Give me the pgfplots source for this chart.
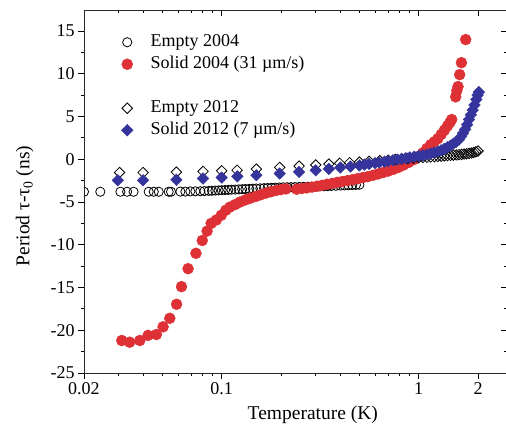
\documentclass[border=0pt]{standalone}
\usepackage{pgfplots}
\pgfplotsset{compat=1.18}
\usepackage{fontspec}
\setmainfont{Liberation Serif}
\definecolor{sred}{RGB}{221,49,54}
\definecolor{sblue}{RGB}{52,52,156}
\begin{document}
\begin{tikzpicture}
\begin{axis}[
  scale only axis, width=423pt, height=363pt, at={(0pt,0pt)}, anchor=south west,
  xmode=log, xmin=0.02, xmax=2.806, ymin=-25, ymax=17.46,
  xtick={0.02,0.1,1,2}, xticklabels={0.02,0.1,1,2},
  minor xtick={0.03,0.04,0.05,0.06,0.07,0.08,0.09,0.2,0.3,0.4,0.5,0.6,0.7,0.8,0.9},
  ytick={-25,-20,-15,-10,-5,0,5,10,15},
  yticklabels={-25,-20,-15,-10,-5,0,5,10,15},
  minor ytick={-22.5,-17.5,-12.5,-7.5,-2.5,2.5,7.5,12.5},
  major tick length=6pt, minor tick length=3.5pt,
  every tick/.append style={black, line width=0.8pt},
  axis line style={line width=0.9pt, black!85},
  tick label style={font=\fontsize{18}{21}\selectfont},
  tick align=outside, xtick pos=bottom, ytick pos=left,
  clip marker paths=true,
  xlabel={Temperature (K)},
  ylabel={Period τ-τ\textsubscript{0} (ns)},
  xlabel style={font=\fontsize{19.5}{23}\selectfont, at={(axis description cs:0.541,-0.116)}, anchor=center},
  ylabel style={font=\fontsize{19.5}{23}\selectfont, at={(axis description cs:-0.140,0.46)}, anchor=center},
  legend cell align=left,
  legend style={at={(axis description cs:0.0816,0.942)}, anchor=north west, draw=none, fill=none,
    font=\fontsize{18}{21}\selectfont, row sep=0pt, inner sep=0pt,
    nodes={inner sep=0pt, text height=15pt, text depth=7pt},
    /tikz/every odd column/.append style={column sep=17.5pt}},
]
% Empty 2004
\addplot[only marks, mark=o, mark size=4.6pt, mark options={black, line width=0.8pt}] coordinates {
(0.0200,-3.80) (0.0242,-3.80) (0.0306,-3.80) (0.0331,-3.80) (0.0357,-3.80)
(0.0426,-3.80) (0.0452,-3.80) (0.0479,-3.80) (0.0538,-3.80) (0.0553,-3.80)
(0.0617,-3.78) (0.0654,-3.78) (0.0693,-3.76) (0.0735,-3.75) (0.0779,-3.74)
(0.0817,-3.72) (0.0859,-3.70) (0.0893,-3.68) (0.0928,-3.66) (0.0964,-3.64)
(0.100,-3.62) (0.104,-3.60) (0.108,-3.58) (0.112,-3.56) (0.117,-3.54)
(0.122,-3.52) (0.127,-3.50) (0.132,-3.48) (0.138,-3.46) (0.144,-3.44)
(0.150,-3.42) (0.157,-3.40) (0.164,-3.38) (0.171,-3.36) (0.179,-3.34)
(0.187,-3.32) (0.196,-3.30) (0.205,-3.28) (0.215,-3.27) (0.225,-3.26)
(0.236,-3.25) (0.248,-3.24) (0.260,-3.23) (0.273,-3.22) (0.287,-3.21)
(0.300,-3.20) (0.315,-3.18) (0.330,-3.16) (0.345,-3.14) (0.360,-3.12)
(0.380,-3.10) (0.400,-3.08) (0.420,-3.06) (0.440,-3.04) (0.460,-3.02)
(0.480,-3.00) (0.500,-2.98)
};
\addlegendentry{Empty 2004}
% Solid 2004
\addplot[only marks, mark=*, mark size=5.5pt, mark options={draw=none, fill=sred}, sred] coordinates {
(0.0311,-21.2) (0.0341,-21.4) (0.0384,-21.2) (0.0423,-20.6) (0.0466,-20.5)
(0.0504,-19.6) (0.0545,-18.6) (0.0590,-16.96) (0.0625,-14.9) (0.0675,-12.8)
(0.0740,-11.0) (0.0797,-9.5) (0.0843,-8.4) (0.0884,-7.5) (0.0939,-7.1)
(0.0995,-6.55) (0.105,-5.96) (0.110,-5.60) (0.117,-5.30) (0.124,-5.00)
(0.132,-4.75) (0.140,-4.55) (0.149,-4.35) (0.158,-4.15) (0.168,-3.95)
(0.178,-3.80) (0.189,-3.65) (0.200,-3.55) (0.212,-3.47) (0.240,-3.50)
(0.255,-3.42) (0.270,-3.35) (0.287,-3.26) (0.305,-3.15) (0.323,-3.05)
(0.343,-2.92) (0.364,-2.82) (0.386,-2.70) (0.410,-2.60) (0.435,-2.50)
(0.462,-2.38) (0.490,-2.27) (0.520,-2.15) (0.552,-2.03) (0.586,-1.88)
(0.622,-1.72) (0.660,-1.55) (0.700,-1.38) (0.743,-1.18) (0.789,-0.95)
(0.837,-0.68) (0.888,-0.38) (0.942,-0.05) (1.00,0.35) (1.05,0.75)
(1.10,1.25) (1.15,1.70) (1.20,2.05) (1.25,2.40) (1.30,2.90)
(1.35,3.40) (1.40,3.90) (1.44,4.30) (1.47,4.65) (1.54,7.30)
(1.56,8.00) (1.583,8.50) (1.614,9.90) (1.647,11.30) (1.732,14.0)
};
\addlegendentry{Solid 2004 (31 µm/s)}
\addlegendimage{empty legend}
\addlegendentry{}
% Empty 2012
\addplot[only marks, mark=square, mark size=3.7pt, mark options={black, rotate=45, line width=0.8pt}] coordinates {
(0.0303,-1.55) (0.0399,-1.55) (0.0589,-1.50) (0.0804,-1.42) (0.100,-1.35)
(0.1197,-1.28) (0.150,-1.15) (0.197,-0.95) (0.247,-0.80) (0.300,-0.67)
(0.350,-0.56) (0.397,-0.47) (0.446,-0.40) (0.500,-0.33) (0.560,-0.25)
(0.634,-0.17) (0.70,-0.10) (0.76,-0.03) (0.82,0.03) (0.88,0.09)
(0.94,0.14) (1.00,0.18) (1.05,0.21) (1.10,0.24) (1.15,0.27)
(1.20,0.30) (1.25,0.33) (1.30,0.36) (1.35,0.39) (1.40,0.42)
(1.45,0.45) (1.50,0.48) (1.55,0.51) (1.60,0.54) (1.65,0.57)
(1.70,0.61) (1.75,0.64) (1.80,0.68) (1.85,0.73) (1.90,0.79)
(1.95,0.87) (2.00,0.96)
};
\addlegendentry{Empty 2012}
% Solid 2012
\addplot[only marks, mark=square*, mark size=4.1pt, mark options={draw=none, fill=sblue, rotate=45}, sblue] coordinates {
(0.0297,-2.46) (0.0399,-2.46) (0.0589,-2.40) (0.0804,-2.25) (0.100,-2.14)
(0.120,-2.00) (0.150,-1.87) (0.197,-1.67) (0.247,-1.48) (0.300,-1.29)
(0.350,-1.12) (0.40,-0.97) (0.45,-0.85) (0.50,-0.72) (0.53,-0.63)
(0.56,-0.55) (0.60,-0.45) (0.63,-0.38) (0.67,-0.28) (0.70,-0.22)
(0.74,-0.12) (0.78,-0.04) (0.82,0.05) (0.86,0.13) (0.90,0.21)
(0.95,0.30) (1.00,0.38) (1.05,0.46) (1.10,0.55) (1.15,0.66)
(1.20,0.78) (1.25,0.90) (1.30,1.05) (1.35,1.22) (1.40,1.40)
(1.45,1.60) (1.50,1.82) (1.55,2.05) (1.60,2.30) (1.64,2.65)
(1.68,3.05) (1.72,3.50) (1.76,4.05) (1.80,4.65) (1.84,5.20)
(1.88,5.75) (1.92,6.35) (1.96,7.00) (1.99,7.50) (2.02,7.85)
};
\addlegendentry{Solid 2012 (7 µm/s)}
\end{axis}
\begin{axis}[
  scale only axis, width=423pt, height=363pt, at={(0pt,0pt)}, anchor=south west,
  xmode=log, xmin=0.02, xmax=2.806, ymin=-25, ymax=17.46,
  xtick={0.02,0.1,1,2}, xticklabels={},
  minor xtick={0.03,0.04,0.05,0.06,0.07,0.08,0.09,0.2,0.3,0.4,0.5,0.6,0.7,0.8,0.9},
  ytick={-25,-20,-15,-10,-5,0,5,10,15}, yticklabels={},
  minor ytick={-22.5,-17.5,-12.5,-7.5,-2.5,2.5,7.5,12.5},
  major tick length=6pt, minor tick length=3.5pt,
  every tick/.append style={black, line width=0.8pt},
  axis line style={line width=0.9pt, black!85},
  tick align=inside, xtick pos=top, ytick pos=right,
]
\addplot[draw=none, forget plot] coordinates {(1,0)};
\end{axis}
\pgfresetboundingbox
\useasboundingbox (-84pt,-55pt) rectangle (422pt,373pt);
\end{tikzpicture}
\end{document}
